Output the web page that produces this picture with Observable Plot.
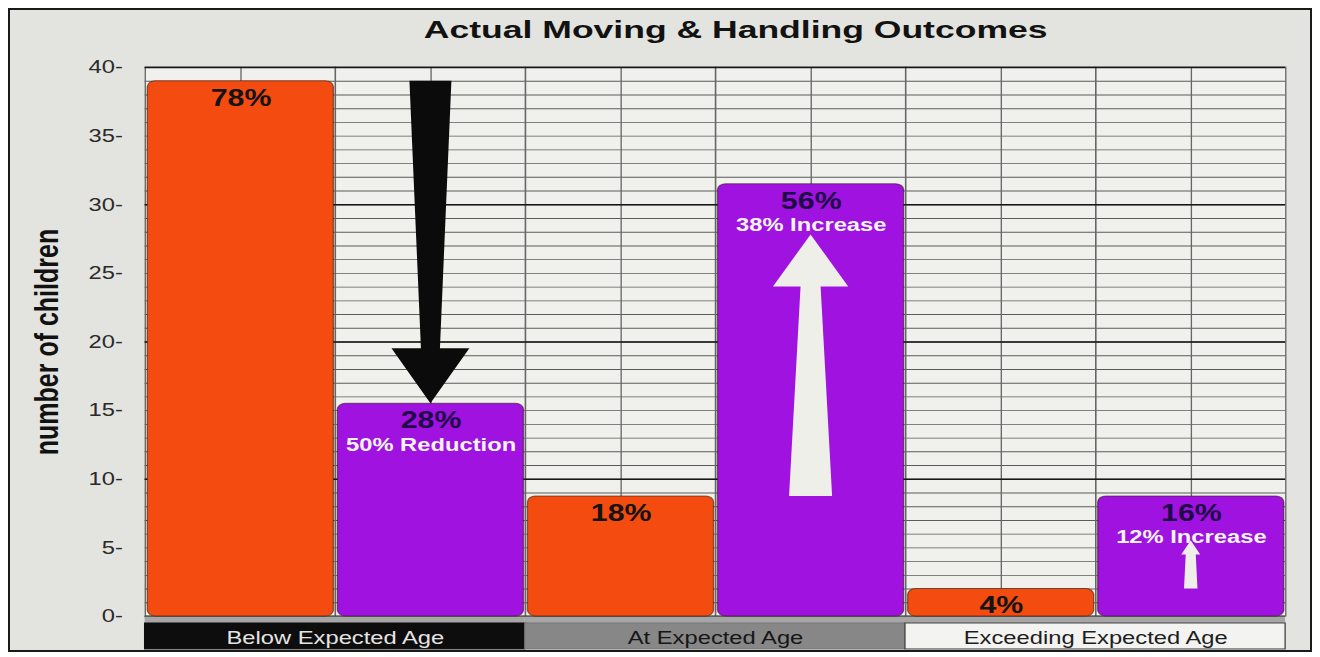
<!DOCTYPE html>
<html>
<head>
<meta charset="utf-8">
<script src="https://cdn.jsdelivr.net/npm/d3@7"></script>
<script src="https://cdn.jsdelivr.net/npm/@observablehq/plot@0.6"></script>
<style>
  html, body { margin: 0; padding: 0; background: #ffffff; }
  #card {
    position: absolute; left: 8px; top: 8px;
    width: 1300px; height: 640px;
    border: 2px solid #1a1a1a;
    background: #e3e4df;
    overflow: hidden;
    font-family: "Liberation Sans", Arial, sans-serif;
  }
  #title {
    height: 46px; line-height: 40px;
    text-align: center; padding-left: 152px;
    font-weight: bold; font-size: 24px; color: #121212;
  }
  #title span { display: inline-block; transform: scaleX(1.48); }
  #chart svg { display: block; }
  g[aria-label="y-axis label"] text {
    font-family: "Liberation Sans", Arial, sans-serif;
    font-weight: bold; font-size: 25px; fill: #111;
  }
</style>
</head>
<body>
<div id="card">
  <div id="title"><span>Actual Moving &amp; Handling Outcomes</span></div>
  <div id="chart"></div>
</div>
<script>
// ---------------- data ----------------
const categories = ["Below Expected Age", "At Expected Age", "Exceeding Expected Age"];
const seriesNames = ["Before", "After"];
const beforeValues = [39, 8.75, 2];
const afterValues = [15.5, 31.5, 8.75];
const beforeLabels = ["78%", "18%", "4%"];
const afterLabels = ["28%", "56%", "16%"];
const changeLabels = ["50% Reduction", "38% Increase", "12% Increase"];
const arrowStarts = [39, 8.75, 2];
const arrowEnds = [15.5, 27.8, 5.5];
const yTicks = [0, 5, 10, 15, 20, 25, 30, 35, 40];

// ---------------- styles ----------------
const stretch = 1.32;                 // the photographed screen is stretched horizontally
const W = 1300, H = 594;
const LW = W / stretch;
const seriesColors = {Before: "#f34b10", After: "#a012e0"};
const labelColors = {Before: "#141414", After: "#1e0a48"};
const bandFill = ["#0d0d0d", "#878787", "#f3f3f1"];
const bandStroke = ["#0d0d0d", "#777777", "#444444"];
const bandText = ["#e4e4e4", "#161616", "#1e1e1e"];
const bandTop = -0.51, bandBottom = -2.4, bandMid = -1.6;
const arrowStyles = [
  {fill: "#0b0b0b", shaftStart: 31.8, shaftEnd: 14.4, headLength: 55, headWidth: 59},
  {fill: "#efefe9", shaftStart: 32.6, shaftEnd: 15.2, headLength: 52, headWidth: 57},
  {fill: "#efefe9", shaftStart: 10.2, shaftEnd: 7.6, headLength: 14, headWidth: 14.4}
];

// ---------------- tables ----------------
const rows = categories.flatMap((c, i) => [
  {category: c, series: seriesNames[0], value: beforeValues[i], label: beforeLabels[i], note: ""},
  {category: c, series: seriesNames[1], value: afterValues[i], label: afterLabels[i], note: changeLabels[i]}
]);
const arrowRows = categories.map((c, i) => ({category: c, series: seriesNames[1], from: arrowStarts[i], to: arrowEnds[i]}));

function arrowRender(index, scales) {
  const g = d3.create("svg:g");
  const sx = scales.x;
  const bw = typeof sx.bandwidth === "function" ? sx.bandwidth() : (sx(seriesNames[1]) - sx(seriesNames[0]));
  for (const i of index) {
    const a = arrowRows[i], st = arrowStyles[i];
    const cx = sx(a.series) + bw / 2;
    const y0 = scales.y(a.from), y1 = scales.y(a.to);
    const dir = Math.sign(y1 - y0);
    const yb = y1 - dir * st.headLength;
    const pts = [
      [cx - st.shaftStart / 2, y0], [cx + st.shaftStart / 2, y0],
      [cx + st.shaftEnd / 2, yb], [cx + st.headWidth / 2, yb],
      [cx, y1],
      [cx - st.headWidth / 2, yb], [cx - st.shaftEnd / 2, yb]
    ];
    g.append("path").attr("d", "M" + pts.map(p => p.join(",")).join("L") + "Z").attr("fill", st.fill);
  }
  return g.node();
}

const chart = Plot.plot({
  width: LW,
  height: H,
  marginTop: 11,
  marginBottom: 34,
  marginLeft: 101.5,
  marginRight: 18.2,
  style: {background: "transparent", fontFamily: "Liberation Sans, Arial, sans-serif", fontSize: "17px", color: "#2a2a2a", overflow: "visible"},
  fx: {domain: categories, padding: 0, axis: null, label: null},
  x: {domain: seriesNames, padding: 0, axis: null},
  y: {domain: [0, 40]},
  marks: [
    Plot.frame({fill: "#f0f0ec", stroke: "none"}),
    Plot.axisY({ticks: [], tickSize: 0, line: true, stroke: "#a2a2a2", strokeWidth: 6, dx: -3, label: null}),
    Plot.ruleY(d3.range(0, 41, 1), {stroke: "#4a4a4a", strokeWidth: 0.9, strokeOpacity: 0.9}),
    Plot.ruleX(rows, {fx: "category", x: "series", stroke: "#666", strokeWidth: 1}),
    Plot.cell(rows, {fx: "category", x: "series", fill: "none", stroke: "#666", strokeWidth: 1}),
    Plot.ruleY(d3.range(0, 41, 10), {stroke: "#161616", strokeWidth: 1.7}),
    Plot.ruleY([0], {stroke: "#a6a6a6", strokeWidth: 7, dy: 3.5}),
    Plot.barY(rows, {
      fx: "category", x: "series", y: "value",
      fill: d => seriesColors[d.series],
      stroke: "#2b1208", strokeOpacity: 0.55, strokeWidth: 1,
      insetLeft: 1.5, insetRight: 1.5, rx: 6
    }),
    Plot.dot(arrowRows, {fx: "category", x: "series", y: "to", render: arrowRender}),
    Plot.text(rows, {
      fx: "category", x: "series", y: "value", text: "label", dy: 17,
      fontSize: 23, fontWeight: "bold", fill: d => labelColors[d.series]
    }),
    Plot.text(rows.filter(d => d.note), {
      fx: "category", x: "series", y: "value", text: "note", dy: 41,
      fontSize: 18, fontWeight: "bold", fill: "#f4f4f4"
    }),
    Plot.rect(categories, {
      fx: d => d, y1: bandTop, y2: bandBottom,
      fill: (d, i) => bandFill[i], stroke: (d, i) => bandStroke[i], strokeWidth: 1
    }),
    Plot.text(categories, {
      fx: d => d, y: bandMid, text: d => d,
      fontSize: 18, fill: (d, i) => bandText[i]
    }),
    Plot.axisY({
      ticks: yTicks, tickFormat: d => `${d}-`, tickSize: 0, tickPadding: 17,
      fontSize: 18, color: "#2a2a2a",
      label: "number of children", labelAnchor: "center", labelOffset: 84, labelArrow: "none"
    })
  ]
});

chart.setAttribute("width", W);
chart.setAttribute("height", H);
chart.setAttribute("preserveAspectRatio", "none");
chart.style.width = W + "px";
chart.style.height = H + "px";
chart.style.maxWidth = "none";
document.getElementById("chart").appendChild(chart);
</script>
</body>
</html>
